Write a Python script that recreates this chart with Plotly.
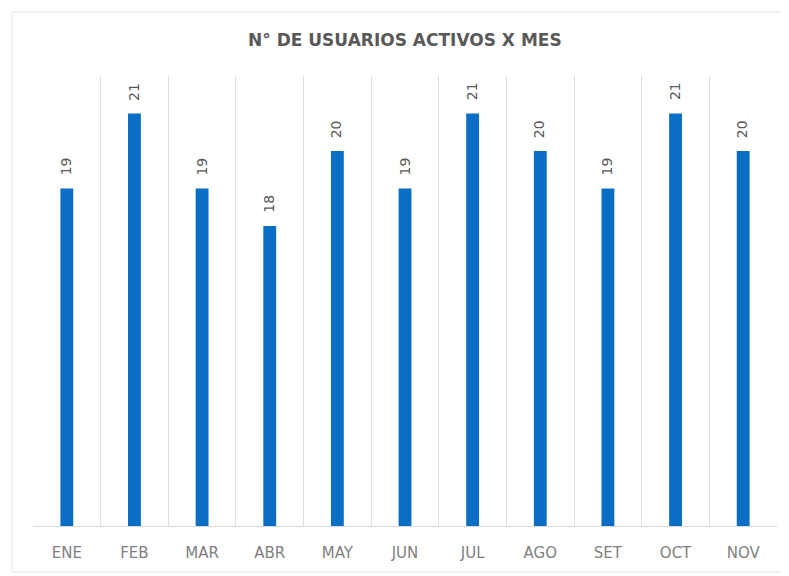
import plotly.graph_objects as go

meses = ["ENE", "FEB", "MAR", "ABR", "MAY", "JUN", "JUL", "AGO", "SET", "OCT", "NOV"]
usuarios = [19, 21, 19, 18, 20, 19, 21, 20, 19, 21, 20]

fig = go.Figure()
fig.add_trace(go.Bar(
    x=meses, y=usuarios,
    marker=dict(color="#0A6FC4", line=dict(width=0)),
    width=0.19,
))

# etiquetas verticales encima de cada barra
for mes, valor in zip(meses, usuarios):
    fig.add_annotation(x=mes, y=valor, text=str(valor), showarrow=False,
                       textangle=-90, yanchor="middle", xanchor="center",
                       yshift=22, xshift=-1,
                       font=dict(family="DejaVu Sans", size=14, color="#595959"))

# la página deja 8px de margen en el body, se compensa aquí
fig.update_layout(
    width=789, height=576,
    paper_bgcolor="white", plot_bgcolor="white",
    margin=dict(l=25, r=20, t=68, b=58),
    showlegend=False,
    title=dict(text="<b>N° DE USUARIOS ACTIVOS X MES</b>", x=0.503, xanchor="center",
               y=0.944, yanchor="middle",
               font=dict(family="DejaVu Sans", size=17, color="#595959")),
    shapes=[dict(type="rect", xref="paper", yref="paper",
                 x0=-0.028, x1=1.011, y0=-0.102, y1=1.142,
                 line=dict(color="#e3e3e3", width=1))],
)
fig.update_xaxes(
    type="category", tickson="boundaries", range=[-0.5, 10.5],
    showgrid=True, gridcolor="#e0e0e0", gridwidth=1,
    showline=True, linecolor="#d9d9d9", linewidth=1,
    ticks="", ticklabelstandoff=13,
    tickfont=dict(family="DejaVu Sans", size=15, color="#7f7f7f"),
)
fig.update_yaxes(range=[10, 22], showgrid=False, showticklabels=False,
                 zeroline=False, showline=False)

fig.write_html("out.html")
